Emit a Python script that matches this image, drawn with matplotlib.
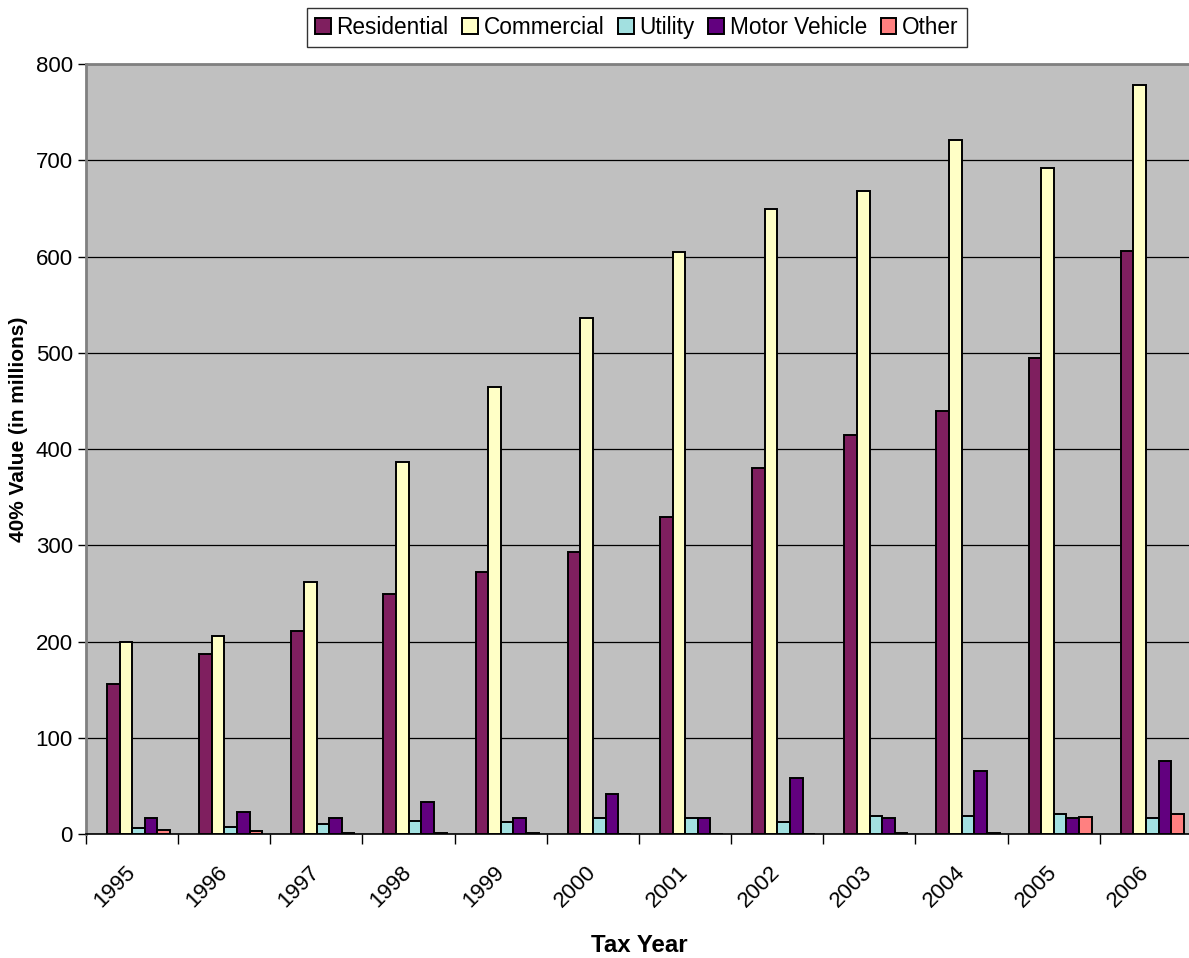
import matplotlib
matplotlib.use("Agg")
import matplotlib.pyplot as plt
import numpy as np

years = ["1995", "1996", "1997", "1998", "1999", "2000",
         "2001", "2002", "2003", "2004", "2005", "2006"]
residential = [156, 187, 211, 249, 272, 293, 329, 380, 415, 440, 495, 606]
commercial = [200, 206, 262, 387, 464, 536, 605, 649, 668, 721, 692, 778]
utility = [6, 7.5, 10, 13.5, 13, 17, 17, 13, 19, 19, 21, 17]
motor_vehicle = [17, 22.5, 17, 33, 17, 41.5, 17, 58.5, 17, 66, 17, 75.5]
other = [4, 3.5, 1, 1, 1, 0.5, 0.5, 0.5, 1, 1, 18, 21]

series = [
    ("Residential", residential, "#7F1F5F"),
    ("Commercial", commercial, "#FFFFC6"),
    ("Utility", utility, "#A2E0E0"),
    ("Motor Vehicle", motor_vehicle, "#62007F"),
    ("Other", other, "#FF8080"),
]

plt.rcParams["font.family"] = ["Liberation Sans", "DejaVu Sans"]

fig = plt.figure(figsize=(11.89, 9.58), dpi=100)
ax = fig.add_axes([0.0723, 0.1294, 0.9302, 0.8038])
ax.set_facecolor("#C0C0C0")

x = np.arange(len(years))
bw = 0.137
shift = 0.07
offsets = (np.arange(len(series)) - 2) * bw + shift
for (name, vals, col), off in zip(series, offsets):
    ax.bar(x + off, vals, width=bw, color=col, edgecolor="black",
           linewidth=1.4, label=name, zorder=3)

ax.set_xlim(-0.5, len(years) - 0.5)
ax.set_ylim(0, 800)
ax.set_yticks(np.arange(0, 801, 100))
ax.yaxis.grid(True, color="black", linewidth=0.9, zorder=1)
ax.set_axisbelow(True)

ax.set_xticks(x - 0.08)
ax.set_xticklabels(years, rotation=45, ha="right", va="top",
                   rotation_mode="anchor", fontsize=16)
ax.tick_params(axis="x", length=0, pad=20)
ax.set_xticks(np.arange(-0.5, len(years)), minor=True)
ax.tick_params(axis="x", which="minor", length=7, width=1, color="black")
ax.tick_params(axis="y", labelsize=16, length=6, width=1)

ax.spines["right"].set_visible(False)
for s in ["top", "left"]:
    ax.spines[s].set_color("#808080")
    ax.spines[s].set_linewidth(2)
ax.spines["bottom"].set_color("black")
ax.spines["bottom"].set_linewidth(1.2)

fig.text(19 / 1189, 1 - 429 / 958, "40% Value (in millions)", rotation=90,
         ha="center", va="center", fontsize=15, fontweight="bold")
ax.set_xlabel("Tax Year", fontsize=17.3, fontweight="bold", labelpad=16)

leg = fig.legend(loc="upper center", bbox_to_anchor=(0.5355, 0.9916), ncol=5,
                 fontsize=16.3, frameon=True, fancybox=False,
                 edgecolor="black", handlelength=0.7, handleheight=0.7,
                 handletextpad=0.25, columnspacing=0.6, borderpad=0.35,
                 borderaxespad=0)
leg.get_frame().set_linewidth(1.0)

fig.savefig("out.png", dpi=100, facecolor="white")
